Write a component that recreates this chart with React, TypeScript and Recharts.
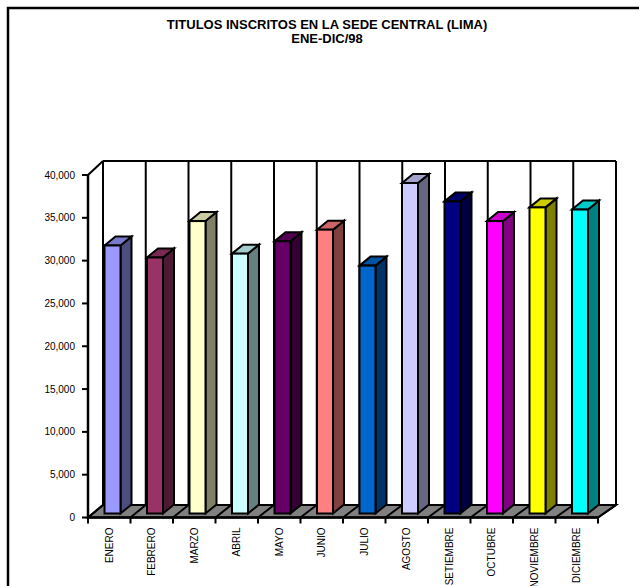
import { BarChart, Bar, XAxis, YAxis } from "recharts"

const months = [
  "ENERO", "FEBRERO", "MARZO", "ABRIL", "MAYO", "JUNIO",
  "JULIO", "AGOSTO", "SETIEMBRE", "OCTUBRE", "NOVIEMBRE", "DICIEMBRE",
]
const titulos = [31300, 29900, 34150, 30350, 31800, 33150, 28950, 38600, 36450, 34150, 35750, 35500]
const yTicks = [0, 5000, 10000, 15000, 20000, 25000, 30000, 35000, 40000]

const barColors = [
  "#9999FF", "#993366", "#FFFFCC", "#CCFFFF", "#660066", "#FF8080",
  "#0066CC", "#CCCCFF", "#000080", "#FF00FF", "#FFFF00", "#00FFFF",
]

const data = months.map((m, i) => ({ month: m, value: titulos[i] }))

// layout of the front plane and the back wall
const W = 639
const H = 586
const plotLeft = 88
const plotRight = 598
const plotTop = 175
const plotBottom = 517.5
const backLeft = 103
const backRight = 616
const backTop = 161
const backBottom = 505
const font = "'Liberation Sans', Arial, sans-serif"

function shade(hex: string, f: number) {
  const n = parseInt(hex.slice(1), 16)
  const r = Math.round(((n >> 16) & 255) * f)
  const g = Math.round(((n >> 8) & 255) * f)
  const b = Math.round((n & 255) * f)
  return `rgb(${r},${g},${b})`
}

const Bar3D = (props: any) => {
  const { x, y, width, height, index } = props
  const c = barColors[index % barColors.length]
  const fx = x + 3.5
  const fy = y - 4
  const dx = 11
  const dy = -9
  return (
    <g stroke="#000" strokeWidth={2} strokeLinejoin="miter">
      <polygon
        points={`${fx + width},${fy} ${fx + width + dx},${fy + dy} ${fx + width + dx},${fy + height + dy} ${fx + width},${fy + height}`}
        fill={shade(c, 0.5)}
      />
      <polygon
        points={`${fx},${fy} ${fx + dx},${fy + dy} ${fx + width + dx},${fy + dy} ${fx + width},${fy}`}
        fill={shade(c, 0.8)}
      />
      <rect x={fx} y={fy} width={width} height={height} fill={c} />
    </g>
  )
}

const MonthTick = (props: any) => {
  const { x, payload } = props
  const ty = plotBottom + 10
  return (
    <text
      x={x}
      y={ty}
      dy="0.35em"
      transform={`rotate(-90, ${x}, ${ty})`}
      textAnchor="end"
      fontSize={10}
      fontFamily={font}
      fill="#000"
    >
      {payload.value}
    </text>
  )
}

function Backdrop() {
  const n = months.length
  const frontStep = (plotRight - plotLeft) / n
  const backStep = (backRight - backLeft) / n
  const idx = Array.from({ length: n + 1 }, (_, k) => k)
  return (
    <svg width={W} height={H} style={{ position: "absolute", left: 0, top: 0 }}>
      <path d={`M8,${H + 20} L8,8 L${W + 20},8`} fill="none" stroke="#000" strokeWidth={2.5} />
      {/* back wall */}
      <g stroke="#000" strokeWidth={2} fill="none">
        {idx.map((k) => (
          <line key={k} x1={backLeft + backStep * k} y1={backTop} x2={backLeft + backStep * k} y2={backBottom} />
        ))}
        <line x1={backLeft} y1={backTop} x2={backRight} y2={backTop} />
        <line x1={plotLeft} y1={plotTop} x2={backLeft} y2={backTop} />
      </g>
      {/* floor */}
      <polygon
        points={`${plotLeft},${plotBottom} ${plotRight},${plotBottom} ${backRight},${backBottom} ${backLeft},${backBottom}`}
        fill="#808080"
        stroke="#000"
        strokeWidth={2}
      />
      <g stroke="#000" strokeWidth={2}>
        {idx.map((k) => (
          <line
            key={k}
            x1={plotLeft + frontStep * k}
            y1={plotBottom}
            x2={backLeft + backStep * k}
            y2={backBottom}
          />
        ))}
        {idx.map((k) => (
          <line
            key={"t" + k}
            x1={plotLeft + frontStep * k}
            y1={plotBottom}
            x2={plotLeft + frontStep * k}
            y2={plotBottom + 6}
          />
        ))}
      </g>
    </svg>
  )
}

export default function App() {
  return (
    <div style={{ position: "absolute", left: 0, top: 0, width: W, height: H, background: "#fff" }}>
      <Backdrop />
      <div style={{ position: "absolute", left: 0, top: 0 }}>
        <BarChart
          width={W}
          height={H}
          data={data}
          margin={{ top: plotTop, right: W - plotRight, bottom: H - plotBottom - 60, left: plotLeft - 60 }}
        >
          <text x={327} y={28.5} textAnchor="middle" fontSize={13} fontWeight="bold" fontFamily={font} fill="#000">
            TITULOS INSCRITOS EN LA SEDE CENTRAL (LIMA)
          </text>
          <text x={327} y={43} textAnchor="middle" fontSize={13} fontWeight="bold" fontFamily={font} fill="#000">
            ENE-DIC/98
          </text>
          <XAxis
            dataKey="month"
            interval={0}
            height={60}
            tickLine={false}
            axisLine={{ stroke: "#000", strokeWidth: 2.5 }}
            tick={<MonthTick />}
          />
          <YAxis
            width={60}
            domain={[0, 40000]}
            ticks={yTicks}
            interval={0}
            tickSize={6}
            tickMargin={7}
            axisLine={{ stroke: "#000", strokeWidth: 2.5 }}
            tickLine={{ stroke: "#000", strokeWidth: 2 }}
            tick={{ fontSize: 10, fontFamily: font, fill: "#000" }}
            tickFormatter={(v: number) => v.toLocaleString("en-US")}
          />
          <Bar dataKey="value" barSize={16} shape={<Bar3D />} isAnimationActive={false} />
        </BarChart>
      </div>
    </div>
  )
}
